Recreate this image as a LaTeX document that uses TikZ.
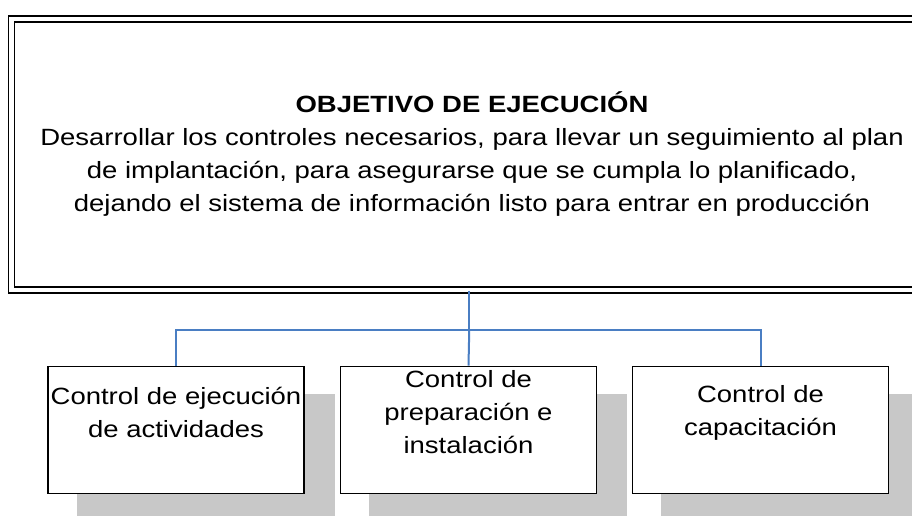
\documentclass[tikz,border=0pt]{standalone}
\usepackage{fontspec}
\setmainfont{Liberation Sans}[FakeStretch=1.17]
\definecolor{connblue}{RGB}{74,126,195}
\definecolor{shadowgray}{RGB}{200,200,200}
\begin{document}
\begin{tikzpicture}[x=1pt,y=-1pt,
  mainbox/.style={draw=black,double,double distance=4.2pt,line width=1.8pt,fill=white,
    minimum width=915.5pt,minimum height=271pt,inner sep=0pt},
  subbox/.style={draw=black,line width=1.6pt,fill=white,minimum width=256pt,minimum height=127pt,inner sep=0pt},
  shadowbox/.style={fill=shadowgray,draw=none},
  boxtext/.style={font=\fontsize{23.5pt}{33pt}\selectfont,align=center,inner sep=0pt},
  conn/.style={draw=connblue,line width=2pt}]
\useasboundingbox (0,0) rectangle (912,515);
\clip (0,0) rectangle (912,515);
\fill[white] (0,0) rectangle (912,515);
% main box
\node[mainbox] (obj) at (469.25,154.5) {};
\node[boxtext] (objtext) at (472,154.5) {\textbf{OBJETIVO DE EJECUCIÓN}\\Desarrollar los controles necesarios, para llevar un seguimiento al plan\\de implantación, para asegurarse que se cumpla lo planificado,\\dejando el sistema de información listo para entrar en producción};
% shadows
\fill[shadowbox] (77,394) rectangle (335,522);
\fill[shadowbox] (369,394) rectangle (627,522);
\fill[shadowbox] (661,394) rectangle (919,522);
% sub boxes
\node[subbox] (b1) at (176,430) {};
\node[subbox] (b2) at (468.5,430) {};
\node[subbox] (b3) at (760.5,430) {};
\node[boxtext] (t1) at (176,412.5) {Control de ejecución\\de actividades};
\node[boxtext] (t2) at (468.5,412) {Control de\\preparación e\\instalación};
\node[boxtext] (t3) at (760.5,412.5) {Control de\\capacitación};
% connectors
\coordinate (j) at (469.25,330);
\draw[conn] (obj.south) -- (j);
\draw[conn] (b1.north) |- (j) -| (b3.north);
\draw[conn] (j) -- (b2.north);
\end{tikzpicture}
\end{document}
